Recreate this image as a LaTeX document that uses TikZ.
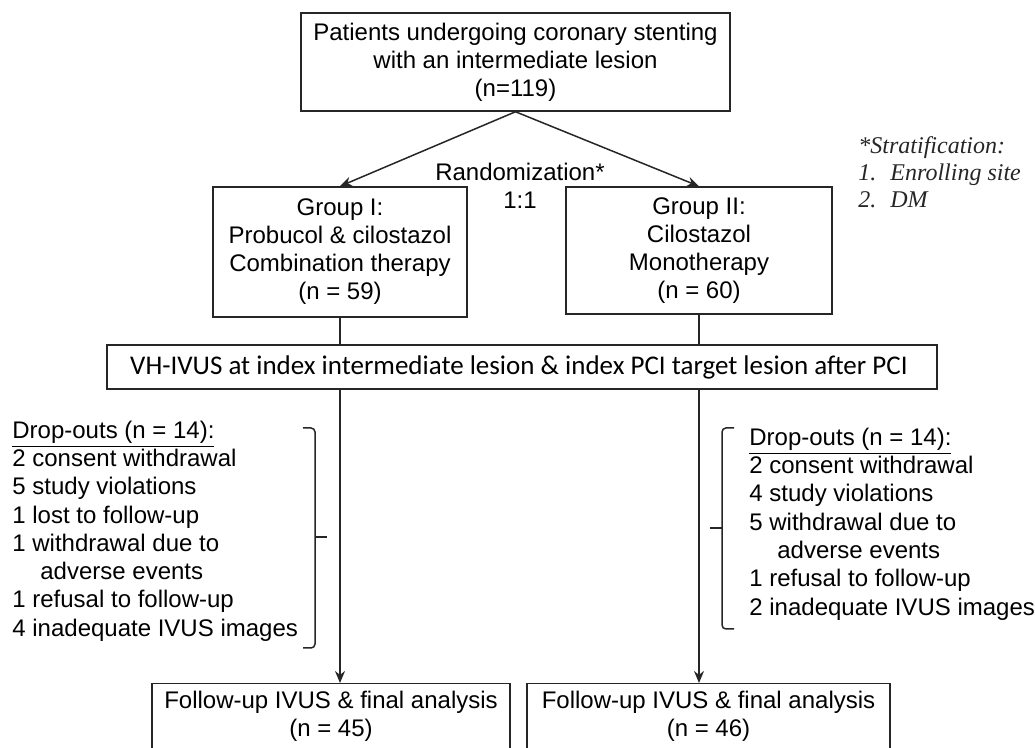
\documentclass[tikz,border=0pt]{standalone}
\usepackage{fontspec}
\setmainfont{Liberation Sans}
\newfontfamily\calibrifont{Carlito}
\newfontfamily\timesfont{Liberation Serif}
\usepackage{tikz}
\usetikzlibrary{arrows.meta,positioning}
\newcommand{\txt}{\fontsize{12}{14}\selectfont}

\begin{document}
\begin{tikzpicture}[x=0.5pt,y=-0.5pt,
    box/.style={draw=black!85,line width=0.75pt,rectangle,align=center,inner sep=0pt,font=\txt},
    ln/.style={draw=black!85,line width=0.75pt},
    arr/.style={ln,-{Stealth[length=6pt,width=5pt]}},
    drops/.style={align=left,anchor=west,inner sep=0pt,font=\fontsize{12}{14.15}\selectfont}]
    \useasboundingbox (0,0) rectangle (1035,748);
    \clip (0,0) rectangle (1035,748);

    \node[box,minimum width=214.5pt,minimum height=49pt] (all) at (515.5,62) {
      Patients undergoing coronary stenting\\
      with an intermediate lesion\\
      (n=119)
    };

    \node[box,minimum width=127pt,minimum height=65pt] (g1) at (340,252) {
      Group I:\\Probucol \& cilostazol\\Combination therapy\\(n = 59)
    };
    \node[box,minimum width=133pt,minimum height=63.5pt] (g2) at (699,250.5) {
      Group II:\\Cilostazol\\Monotherapy\\(n = 60)
    };

    \node[align=center,font=\txt] (rnd) at (520,186) {Randomization*\\1:1};

    \node[align=left,anchor=west,inner sep=0pt,text=black!85,
      font=\timesfont\itshape\fontsize{12}{13.5}\selectfont] (strat) at (858,172) {
      *Stratification:\\
      \makebox[16pt][l]{1.}Enrolling site\\
      \makebox[16pt][l]{2.}DM
    };

    \node[box,font=\calibrifont\fontsize{13.5}{15}\selectfont,minimum width=415pt,minimum height=22pt] (vh) at (522,367) {
      VH-IVUS at index intermediate lesion \& index PCI target lesion after PCI
    };

    \node[box,anchor=north,minimum width=179pt,minimum height=33pt] (fu1) at (331,683) {
      Follow-up IVUS \& final analysis\\(n = 45)
    };
    \node[box,anchor=north,minimum width=181.5pt,minimum height=33pt] (fu2) at (708.5,683) {
      Follow-up IVUS \& final analysis\\(n = 46)
    };

    % drop-outs
    \node[drops] (dl) at (12,531) {
      \underline{Drop-outs (n = 14):}\\
      2 consent withdrawal\\
      5 study violations\\
      1 lost to follow-up\\
      1 withdrawal due to\\
      \hspace*{14pt}adverse events\\
      1 refusal to follow-up\\
      4 inadequate IVUS images
    };
    \node[drops] (dr) at (749,524) {
      \underline{Drop-outs (n = 14):}\\
      2 consent withdrawal\\
      4 study violations\\
      5 withdrawal due to\\
      \hspace*{14pt}adverse events\\
      1 refusal to follow-up\\
      2 inadequate IVUS images
    };

    % brackets
    \draw[ln,rounded corners=2pt] (303,428) -- (315,428) -- (315,648) -- (303,648);
    \draw[ln] (315,537) -- (327,537);
    \draw[ln,rounded corners=2pt] (734,428) -- (722,428) -- (722,629) -- (734,629);
    \draw[ln] (722,528) -- (710,528);

    % connectors
    \draw[arr] (all.south) -- (g1.north);
    \draw[arr] (all.south) -- (g2.north);
    \draw[ln] (g1.south) -- (g1.south |- vh.north);
    \draw[ln] (g2.south) -- (g2.south |- vh.north);
    \draw[arr] (g1.south |- vh.south) -- (g1.south |- fu1.north);
    \draw[arr] (g2.south |- vh.south) -- (g2.south |- fu2.north);
\end{tikzpicture}
\end{document}
